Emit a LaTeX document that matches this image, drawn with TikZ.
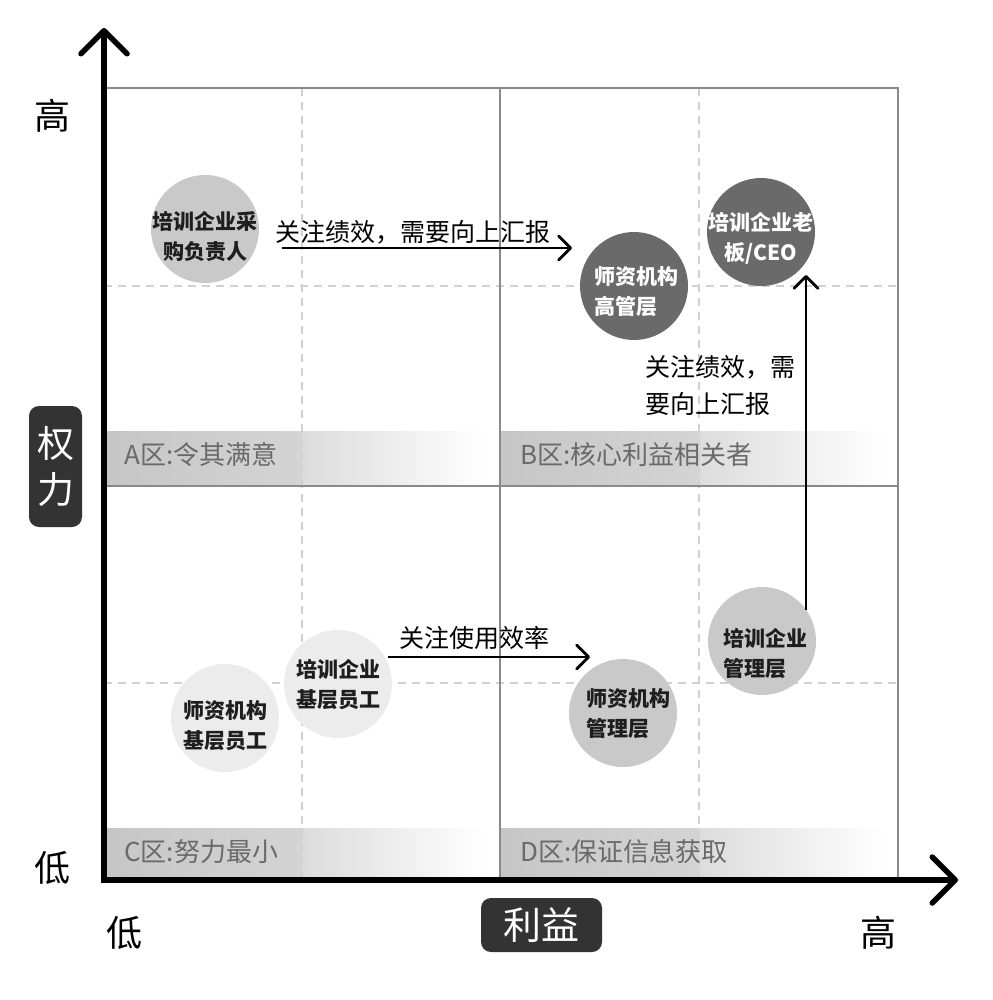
\documentclass[tikz,border=0pt]{standalone}
\usepackage{fontspec}
\setmainfont{Noto Sans CJK SC}
\usetikzlibrary{arrows.meta,calc}
\definecolor{gridline}{HTML}{8A8A8A}
\definecolor{dashline}{HTML}{D0D0D0}
\definecolor{bandA}{HTML}{C6C6C6}
\definecolor{bandB}{HTML}{D4D4D4}
\definecolor{bandC}{HTML}{DCDCDC}
\definecolor{zonetext}{HTML}{6A6A6A}
\definecolor{lightfill}{HTML}{ECECEC}
\definecolor{midfill}{HTML}{C9C9C9}
\definecolor{darkfill}{HTML}{6A6A6A}
\definecolor{boxfill}{HTML}{333333}
\definecolor{inktext}{HTML}{1E1E1E}
\begin{document}
\begin{tikzpicture}[x=1pt,y=-1pt,
  gridsolid/.style={draw=gridline, line width=2pt},
  griddash/.style={draw=dashline, line width=1.6pt, dash pattern=on 8pt off 6pt},
  axisline/.style={line width=5.5pt, line join=miter,
    {Straight Barb[length=23pt,width=46pt,round]}-{Straight Barb[length=23pt,width=46pt,round]}},
  flowarrow/.style={line width=2.8pt, -{Straight Barb[length=12pt,width=24pt,round]}},
  circ/.style={circle, minimum size=108pt, inner sep=0pt, draw=none},
  ctext/.style={inner sep=0pt, font=\bfseries\fontsize{21}{30}\selectfont},
  lightc/.style={circ, fill=lightfill},
  midc/.style={circ, fill=midfill},
  darkc/.style={circ, fill=darkfill},
  blackt/.style={ctext, text=inktext},
  whitet/.style={ctext, text=white},
  zonelabel/.style={anchor=west, inner sep=0pt, text=zonetext, font=\fontsize{26}{30}\selectfont},
  flowlabel/.style={inner sep=0pt, text=black, font=\fontsize{25}{37}\selectfont},
  axislabel/.style={inner sep=0pt, text=black, font=\fontsize{36}{40}\selectfont},
  titlebox/.style={fill=boxfill, rounded corners=10pt, text=white, inner sep=0pt}
]
\useasboundingbox (0,0) rectangle (992,1000);
\fill[white] (0,0) rectangle (992,1000);

% gradient bands
\foreach \xa/\xb/\ya/\yb in {106/498/431/485, 501/897/431/485, 106/498/828/879, 501/897/828/879}{
  \pgfmathsetmacro{\xm}{\xa+0.5*(\xb-\xa)}
  \pgfmathsetmacro{\xe}{\xa+0.97*(\xb-\xa)}
  \shade[left color=bandA, right color=bandB] (\xa,\ya) rectangle (\xm,\yb);
  \shade[left color=bandC, right color=white] (\xm,\ya) rectangle (\xe,\yb);
}

% dashed grid
\draw[griddash] (302,88) -- (302,880);
\draw[griddash] (699,88) -- (699,880);
\draw[griddash] (104,286) -- (898,286);
\draw[griddash] (104,683) -- (898,683);

% solid grid
\draw[gridsolid] (104,88) -- (898,88) -- (898,880);
\draw[gridsolid] (500,88) -- (500,880);
\draw[gridsolid] (104,486) -- (898,486);

% axes
\coordinate (ytop) at (104,28);
\coordinate (orig) at (104,880);
\coordinate (xend) at (958,880);
\draw[axisline] (ytop) -- (orig) -- (xend);

% zone labels
\node[zonelabel] (za) at (124,455) {A区:令其满意};
\node[zonelabel] (zb) at (520,455) {B区:核心利益相关者};
\node[zonelabel] (zc) at (124,852) {C区:努力最小};
\node[zonelabel] (zd) at (520,852) {D区:保证信息获取};

% axis labels
\node[axislabel] (yhigh) at (52,116) {高};
\node[axislabel] (ylow) at (52,868) {低};
\node[axislabel] (xlow) at (124,933) {低};
\node[axislabel] (xhigh) at (878,933) {高};
\node[titlebox, minimum width=53pt, minimum height=121pt, align=center,
  font=\fontsize{37}{46}\selectfont] (ytitle) at (55.5,466.5) {权\\力};
\node[titlebox, minimum width=121pt, minimum height=54pt,
  font=\fontsize{38}{40}\selectfont] (xtitle) at (541.5,925) {利益};

% stakeholder circles
\node[midc, label={[blackt, align=center, yshift=-8pt]center:培训企业采\\购负责人}] (c1) at (205,229) {};
\node[darkc, label={[whitet, align=left, yshift=-6pt, xshift=2pt]center:师资机构\\高管层}] (c2) at (634,286) {};
\node[darkc, label={[whitet, align=center, yshift=-6pt]center:培训企业老\\板/CEO}] (c3) at (761,232) {};
\node[lightc, label={[blackt, align=center, yshift=-1pt]center:培训企业\\基层员工}] (c4) at (338,684) {};
\node[lightc, label={[blackt, align=center, yshift=-8pt]center:师资机构\\基层员工}] (c5) at (225,718) {};
\node[midc, label={[blackt, align=left, yshift=-1pt, xshift=5pt]center:师资机构\\管理层}] (c6) at (623,713) {};
\node[midc, label={[blackt, align=left, yshift=-13pt, xshift=3pt]center:培训企业\\管理层}] (c7) at (762,641) {};

% flows
\draw[flowarrow] ($(c1.center)+(77,19)$) -- ($(c2.center)+(-62,-38)$);
\draw[flowarrow] ($(c7.center)+(44,-31)$) -- ($(c3.center)+(45,43)$);
\draw[flowarrow] ($(c4.center)+(50,-27)$) -- ($(c6.center)+(-33,-56)$);

% flow labels
\node[flowlabel] (f1) at (413,232) {关注绩效，需要向上汇报};
\node[flowlabel, anchor=west, align=left] (f2) at (645,385) {关注绩效，需\\要向上汇报};
\node[flowlabel] (f3) at (474,638) {关注使用效率};
\end{tikzpicture}
\end{document}
